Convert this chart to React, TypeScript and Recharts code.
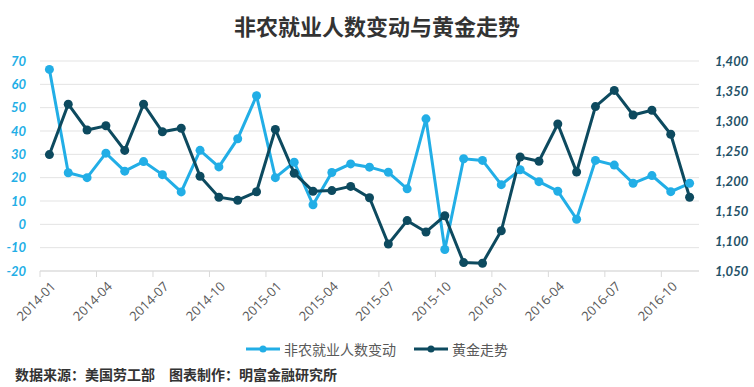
import { CartesianGrid, Line, LineChart, XAxis, YAxis } from 'recharts'

const months = [
  '2014-01', '2014-02', '2014-03', '2014-04', '2014-05', '2014-06',
  '2014-07', '2014-08', '2014-09', '2014-10', '2014-11', '2014-12',
  '2015-01', '2015-02', '2015-03', '2015-04', '2015-05', '2015-06',
  '2015-07', '2015-08', '2015-09', '2015-10', '2015-11', '2015-12',
  '2016-01', '2016-02', '2016-03', '2016-04', '2016-05', '2016-06',
  '2016-07', '2016-08', '2016-09', '2016-10', '2016-11',
]

// 非农就业人数变动 (万人)
const payrolls = [
  66.4, 22.1, 20.0, 30.5, 22.8, 26.9, 21.3, 13.9, 31.7, 24.6, 36.7, 55.1,
  20.0, 26.6, 8.4, 22.2, 25.9, 24.5, 22.3, 15.2, 45.2, -10.8, 28.1, 27.4,
  17.0, 23.4, 18.3, 14.2, 2.2, 27.4, 25.4, 17.6, 20.9, 14.0, 17.6,
]

// 黄金走势 (美元/盎司)
const gold = [
  1244, 1328, 1285, 1292, 1251, 1328, 1282, 1288, 1208, 1173, 1168, 1182,
  1286, 1213, 1183, 1184, 1191, 1172, 1095, 1134, 1115, 1142, 1064, 1063,
  1117, 1240, 1233, 1295, 1215, 1324, 1351, 1310, 1318, 1278, 1173,
]

const leftTicks = [-20, -10, 0, 10, 20, 30, 40, 50, 60, 70]
const rightTicks = [1050, 1100, 1150, 1200, 1250, 1300, 1350, 1400]

const data = months.map((month, i) => ({
  month,
  payrolls: payrolls[i],
  gold: gold[i],
}))

const LIGHT = '#22aee6'
const DARK = '#0d4a5f'
const WIDTH = 754
const HEIGHT = 387
const LEFT_W = 40
const RIGHT_W = 55
const BAND = (WIDTH - LEFT_W - RIGHT_W) / months.length

function MonthTick({ x, y, payload }: { x?: number; y?: number; payload?: { value: string } }) {
  const cx = x ?? 0
  const cy = y ?? 0
  return (
    <g>
      <line x1={cx - BAND / 2} x2={cx - BAND / 2} y1={cy - 12} y2={cy - 6} stroke="#d9d9d9" />
      <g transform={`translate(${cx + 4},${cy + 1})`}>
        <text
          transform="rotate(-45)"
          textAnchor="end"
          dy="0.35em"
          fill="#595959"
          fontSize={13}
          fontFamily="'Open Sans', Lato, sans-serif"
        >
          {payload?.value}
        </text>
      </g>
    </g>
  )
}

function LegendItem({ color, label }: { color: string; label: string }) {
  return (
    <div style={{ display: 'flex', alignItems: 'center', gap: 4 }}>
      <svg width={34} height={10}>
        <line x1={0} x2={34} y1={5} y2={5} stroke={color} strokeWidth={3} />
        <circle cx={17} cy={5} r={3.5} fill={color} />
      </svg>
      <span>{label}</span>
    </div>
  )
}

export default function App() {
  return (
    <div
      style={{
        position: 'absolute',
        left: 0,
        top: 0,
        width: WIDTH,
        height: HEIGHT,
        background: '#fff',
        fontFamily: "'Noto Sans CJK SC', sans-serif",
      }}
    >
      <div
        style={{
          position: 'absolute',
          top: 10,
          width: WIDTH,
          textAlign: 'center',
          fontSize: 22,
          fontWeight: 700,
          color: '#333',
          lineHeight: '30px',
        }}
      >
        非农就业人数变动与黄金走势
      </div>

      <LineChart
        width={WIDTH}
        height={HEIGHT}
        data={data}
        margin={{ top: 61, right: 0, bottom: 0, left: 0 }}
      >
        <CartesianGrid yAxisId="left" vertical={false} stroke="#e3e3e3" />
        <XAxis
          dataKey="month"
          height={116}
          interval={2}
          padding={{ left: BAND / 2, right: BAND / 2 }}
          tickLine={false}
          tickSize={6}
          tickMargin={6}
          axisLine={{ stroke: '#d9d9d9' }}
          tick={<MonthTick />}
        />
        <YAxis
          yAxisId="left"
          width={LEFT_W}
          domain={[-20, 70]}
          ticks={leftTicks}
          axisLine={false}
          tickLine={false}
          tickSize={6}
          tickMargin={8}
          tick={{
            fill: LIGHT,
            fontSize: 13,
            fontWeight: 700,
            fontStyle: 'italic',
            fontFamily: "Lato, 'Open Sans', sans-serif",
          }}
        />
        <YAxis
          yAxisId="right"
          orientation="right"
          width={RIGHT_W}
          domain={[1050, 1400]}
          ticks={rightTicks}
          axisLine={false}
          tickLine={false}
          tickSize={6}
          tickMargin={10}
          tickFormatter={(v: number) => v.toLocaleString('en-US')}
          tick={{
            fill: '#1f5268',
            fontSize: 13,
            fontWeight: 700,
            fontStyle: 'italic',
            fontFamily: "Lato, 'Open Sans', sans-serif",
          }}
        />
        <Line
          yAxisId="left"
          dataKey="payrolls"
          name="非农就业人数变动"
          stroke={LIGHT}
          strokeWidth={3}
          dot={{ r: 4.5, fill: LIGHT, stroke: LIGHT, strokeWidth: 0 }}
          isAnimationActive={false}
        />
        <Line
          yAxisId="right"
          dataKey="gold"
          name="黄金走势"
          stroke={DARK}
          strokeWidth={3}
          dot={{ r: 4.5, fill: DARK, stroke: DARK, strokeWidth: 0 }}
          isAnimationActive={false}
        />
      </LineChart>

      <div
        style={{
          position: 'absolute',
          top: 338,
          left: 246,
          display: 'flex',
          gap: 18,
          fontSize: 14,
          color: '#595959',
          lineHeight: '22px',
        }}
      >
        <LegendItem color={LIGHT} label="非农就业人数变动" />
        <LegendItem color={DARK} label="黄金走势" />
      </div>

      <div
        style={{
          position: 'absolute',
          top: 364,
          left: 15,
          fontSize: 14,
          fontWeight: 700,
          color: '#333',
          lineHeight: '20px',
        }}
      >
        数据来源：美国劳工部　图表制作：明富金融研究所
      </div>
    </div>
  )
}
